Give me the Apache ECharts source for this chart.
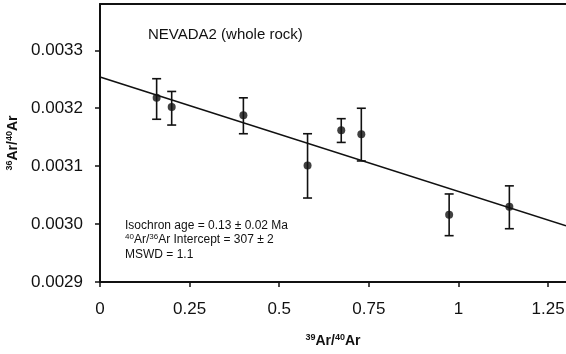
<!DOCTYPE html>
<html>
<head>
<meta charset="utf-8">
<script src="https://cdn.jsdelivr.net/npm/echarts@6/dist/echarts.min.js"></script>
<style>
html,body{margin:0;padding:0;background:#fff;}
#chart{width:566px;height:354px;}
</style>
</head>
<body>
<div id="chart"></div>
<script>
// Data
var xVals   = [0.158, 0.200, 0.400, 0.579, 0.673, 0.729, 0.974, 1.142];
var yVals   = [0.003218, 0.003202, 0.003188, 0.003101, 0.003162, 0.003155, 0.003016, 0.003030];
var yLow    = [0.003181, 0.003171, 0.003156, 0.003045, 0.003141, 0.003109, 0.002980, 0.002992];
var yHigh   = [0.003251, 0.003229, 0.003218, 0.003156, 0.003182, 0.003200, 0.003052, 0.003066];
var fitX    = [0, 1.3];
var fitY    = [0.003254, 0.002997];
var xTicks  = [0, 0.25, 0.5, 0.75, 1, 1.25];
var yTicks  = [0.0029, 0.0030, 0.0031, 0.0032, 0.0033];
var titleText = 'NEVADA2 (whole rock)';
var noteLines = ['Isochron age = 0.13 \u00b1 0.02 Ma', '{s|40}Ar/{s|36}Ar Intercept = 307 \u00b1 2', 'MSWD = 1.1'];

var points = xVals.map(function (x, i) { return [x, yVals[i]]; });
var bars = xVals.map(function (x, i) { return [x, yLow[i], yHigh[i]]; });
var fit = fitX.map(function (x, i) { return [x, fitY[i]]; });

var FONT = '"Liberation Sans", Arial, sans-serif';
var INK = '#111';

var chart = echarts.init(document.getElementById('chart'), null, {renderer: 'canvas'});
chart.setOption({
  animation: false,
  backgroundColor: '#fff',
  grid: {left: 100, right: 0, top: 4, bottom: 72, containLabel: false, outerBoundsMode: 'none'},
  xAxis: [{
    type: 'value', min: 0, max: 1.3,
    splitLine: {show: false},
    axisLine: {lineStyle: {color: INK, width: 2}},
    axisTick: {length: 5, lineStyle: {color: INK, width: 1.5}, customValues: xTicks},
    axisLabel: {fontFamily: FONT, fontSize: 17, color: INK, margin: 19, customValues: xTicks},
    name: '{sup|39}{b|Ar/}{sup|40}{b|Ar}',
    nameLocation: 'middle', nameGap: 51,
    nameTextStyle: {
      rich: {
        b: {fontFamily: FONT, fontSize: 14, fontWeight: 'bold', color: INK, lineHeight: 16},
        sup: {fontFamily: FONT, fontSize: 9, fontWeight: 'bold', color: INK, verticalAlign: 'top', lineHeight: 16, padding: [0, 0, 6, 0]}
      }
    }
  }, {
    type: 'value', min: 0, max: 1.3, position: 'top',
    splitLine: {show: false},
    axisLine: {show: true, lineStyle: {color: INK, width: 2}},
    axisTick: {show: false}, axisLabel: {show: false}
  }],
  yAxis: {
    type: 'value', min: 0.0029, max: 0.00338,
    splitLine: {show: false},
    axisLine: {show: true, lineStyle: {color: INK, width: 2}},
    axisTick: {show: true, length: 5, lineStyle: {color: INK, width: 1.5}, customValues: yTicks},
    axisLabel: {fontFamily: FONT, fontSize: 17, color: INK, margin: 17, customValues: yTicks,
      formatter: function (v) { return v.toFixed(4); }},
    name: '{sup|36}{b|Ar/}{sup|40}{b|Ar}',
    nameLocation: 'middle', nameGap: 75,
    nameTextStyle: {
      rich: {
        b: {fontFamily: FONT, fontSize: 14, fontWeight: 'bold', color: INK, lineHeight: 16},
        sup: {fontFamily: FONT, fontSize: 9, fontWeight: 'bold', color: INK, verticalAlign: 'top', lineHeight: 16, padding: [0, 0, 6, 0]}
      }
    }
  },
  series: [{
    type: 'line', data: fit, symbol: 'none', xAxisIndex: 0,
    lineStyle: {color: INK, width: 1.6}, z: 2
  }, {
    type: 'custom', xAxisIndex: 0, data: bars, z: 3,
    renderItem: function (params, api) {
      var x = api.value(0);
      var lo = api.coord([x, api.value(1)]);
      var hi = api.coord([x, api.value(2)]);
      var w = 4.5;
      var st = {stroke: INK, lineWidth: 1.6};
      return {type: 'group', children: [
        {type: 'line', shape: {x1: lo[0], y1: lo[1], x2: hi[0], y2: hi[1]}, style: st},
        {type: 'line', shape: {x1: lo[0] - w, y1: lo[1], x2: lo[0] + w, y2: lo[1]}, style: st},
        {type: 'line', shape: {x1: hi[0] - w, y1: hi[1], x2: hi[0] + w, y2: hi[1]}, style: st}
      ]};
    }
  }, {
    type: 'scatter', data: points, xAxisIndex: 0, symbol: 'circle', symbolSize: 8,
    itemStyle: {color: INK}, z: 4
  }],
  graphic: [{
    type: 'text', left: 148, top: 27,
    style: {text: titleText, font: '15px ' + FONT, fill: INK}
  }, {
    type: 'text', left: 125, top: 218,
    style: {
      text: noteLines.join('\n'),
      font: '12px ' + FONT, fill: INK, lineHeight: 14.5,
      rich: {
        s: {fontSize: 8, fontFamily: FONT, fill: INK, verticalAlign: 'top', lineHeight: 14.5, padding: [0, 0, 5, 0]}
      }
    }
  }]
});
</script>
</body>
</html>
